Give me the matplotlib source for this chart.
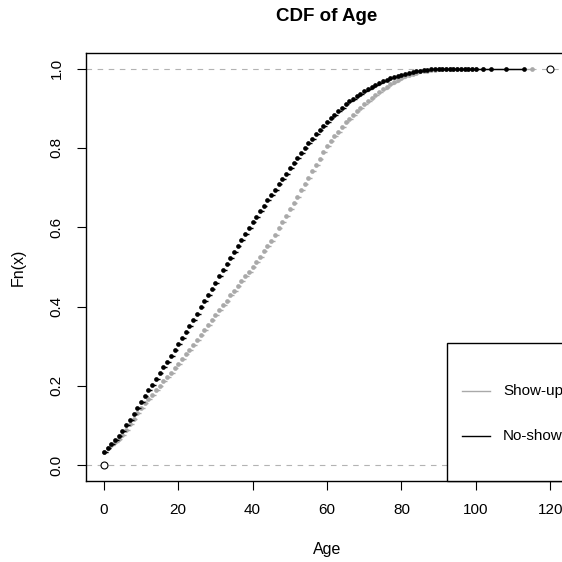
import matplotlib
matplotlib.use("Agg")
import matplotlib.pyplot as plt
from matplotlib.patches import Rectangle
from matplotlib.lines import Line2D

plt.rcParams['font.family'] = ['Liberation Sans', 'DejaVu Sans']

# ---- data (ECDF values) ----
noshow_age = list(range(0, 101)) + [102, 104, 108, 113]
noshow_cdf = [
    0.034, 0.044, 0.054, 0.064, 0.074, 0.085, 0.100, 0.115, 0.130, 0.145,
    0.160, 0.174, 0.189, 0.203, 0.218, 0.232, 0.247, 0.261, 0.276, 0.290,
    0.305, 0.320, 0.336, 0.351, 0.367, 0.382, 0.398, 0.413, 0.429, 0.444,
    0.460, 0.476, 0.491, 0.507, 0.522, 0.538, 0.553, 0.568, 0.582, 0.597,
    0.612, 0.626, 0.640, 0.654, 0.668, 0.682, 0.695, 0.708, 0.722, 0.735,
    0.748, 0.761, 0.774, 0.787, 0.799, 0.812, 0.823, 0.834, 0.845, 0.855,
    0.866, 0.875, 0.884, 0.892, 0.901, 0.910, 0.917, 0.924, 0.930, 0.937,
    0.944, 0.949, 0.954, 0.959, 0.963, 0.968, 0.972, 0.975, 0.979, 0.982,
    0.985, 0.987, 0.989, 0.991, 0.993, 0.995, 0.996, 0.997, 0.998, 0.9985,
    0.999, 0.9992, 0.9994, 0.9995, 0.9996, 0.9997, 0.9998, 0.9998, 0.9999, 0.9999,
    0.9999, 0.99993, 0.99995, 0.99998, 1.0,
]

showup_age = list(range(0, 101)) + [102, 115]
showup_cdf = [
    0.034, 0.042, 0.050, 0.058, 0.066, 0.075, 0.089, 0.103, 0.117, 0.131,
    0.145, 0.156, 0.167, 0.178, 0.189, 0.200, 0.211, 0.222, 0.233, 0.244,
    0.255, 0.267, 0.279, 0.291, 0.303, 0.315, 0.328, 0.340, 0.353, 0.365,
    0.378, 0.390, 0.403, 0.415, 0.428, 0.440, 0.452, 0.464, 0.476, 0.488,
    0.500, 0.513, 0.526, 0.539, 0.552, 0.565, 0.581, 0.597, 0.613, 0.629,
    0.645, 0.661, 0.677, 0.693, 0.709, 0.725, 0.741, 0.757, 0.773, 0.789,
    0.805, 0.817, 0.829, 0.841, 0.853, 0.865, 0.874, 0.883, 0.892, 0.901,
    0.910, 0.918, 0.925, 0.933, 0.940, 0.948, 0.954, 0.960, 0.965, 0.971,
    0.977, 0.980, 0.983, 0.987, 0.990, 0.993, 0.994, 0.995, 0.996, 0.997,
    0.998, 0.9985, 0.999, 0.9993, 0.9995, 0.9996, 0.9997, 0.9998, 0.9999, 0.9999,
    0.99995, 0.99997, 1.0,
]

end_x = [0, 120]
end_y = [0.0, 1.0]

x_ticks = [0, 20, 40, 60, 80, 100, 120]
y_ticks = [0.0, 0.2, 0.4, 0.6, 0.8, 1.0]
y_ticklabels = ["0.0", "0.2", "0.4", "0.6", "0.8", "1.0"]

series_labels = ["Show-up", "No-show"]
series_colors = ["#a9a9a9", "#000000"]

# ---- figure ----
fig = plt.figure(figsize=(5.62, 5.62), dpi=100)
ax = fig.add_axes([86 / 562, 1 - 481 / 562, 482 / 562, 428.3 / 562])
ax.set_xlim(-4.8, 124.8)
ax.set_ylim(-0.04, 1.04)

# dashed reference lines at 0 and 1
for yv in (0.0, 1.0):
    ax.axhline(yv, color="#b3b3b3", lw=0.8, ls=(0, (5, 5)), zorder=1)

def draw_ecdf(xs, ys, color, z):
    ax.hlines(ys[:-1], xs[:-1], xs[1:], colors=color, lw=1.0, zorder=z)
    ax.plot(xs, ys, ls="none", marker="o", ms=3.4, color=color,
            markeredgewidth=0, zorder=z + 0.1)

draw_ecdf(showup_age, showup_cdf, series_colors[0], 2)
draw_ecdf(noshow_age, noshow_cdf, series_colors[1], 3)

ax.plot(end_x, end_y, ls="none", marker="o", ms=5, mfc="white",
        mec="black", mew=0.8, zorder=5)

# axes styling (R-like)
for s in ax.spines.values():
    s.set_linewidth(1.0)
    s.set_color("black")
ax.set_xticks(x_ticks)
ax.set_yticks(y_ticks)
ax.set_yticklabels(y_ticklabels)
ax.tick_params(direction="out", length=6.5, width=0.8, pad=9.5,
               labelsize=11, colors="black")
ax.tick_params(axis="y", labelrotation=90)
for lab in ax.get_yticklabels():
    lab.set_va("center")

ax.set_xlabel("Age", fontsize=11.5)
ax.xaxis.set_label_coords(0.5, -0.142)
ax.set_ylabel("Fn(x)", fontsize=11.5)
ax.yaxis.set_label_coords(-0.125, 0.5)
ax.set_title("CDF of Age", fontsize=13.5, fontweight="bold", y=1.074, pad=0)

# legend box (bottom right, R style)
lx0, ly1 = 0.7496, 0.3229
ax.add_patch(Rectangle((lx0, 0.0), 1.0 - lx0, ly1, transform=ax.transAxes,
                       facecolor="white", edgecolor="black", lw=1.0,
                       zorder=6, clip_on=False))
for lab, col, yy in zip(series_labels, series_colors, (0.2108, 0.105)):
    ax.add_line(Line2D([0.7795, 0.838], [yy, yy], transform=ax.transAxes,
                       color=col, lw=1.0, zorder=7))
    ax.text(0.865, yy, lab, transform=ax.transAxes, fontsize=11,
            va="center", ha="left", zorder=7)

fig.savefig("out.png", dpi=100)
